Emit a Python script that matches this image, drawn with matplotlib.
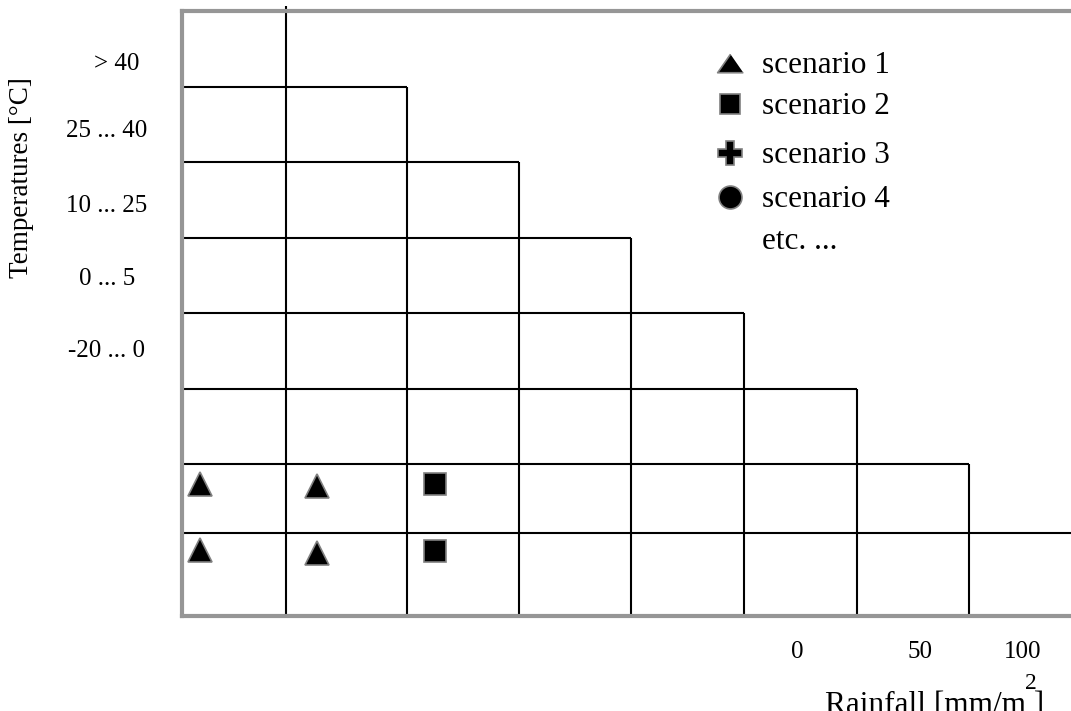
import matplotlib
matplotlib.use("Agg")
from matplotlib import pyplot as plt

plt.rcParams['font.family'] = ['Liberation Serif', 'DejaVu Serif']

# grid structure of the scenario matrix (diagram units, origin top-left)
col_edges = [0, 104, 225, 337, 449, 562, 675, 787, 889]
row_edges = [0, 76, 151, 227, 302, 378, 453, 522, 604]

# temperature class labels and where they sit along the y axis
temp_labels = ["> 40", "25 ... 40", "10 ... 25", "0 ... 5", "-20 ... 0"]
temp_label_y = [59, 126, 201, 274, 346]

# rainfall tick labels along the x axis
rain_labels = ["0", "50", "100"]
rain_label_x = [615, 738, 841]

# scenario points
scen1_x = [18, 135, 18, 135]
scen1_y = [473, 475, 539, 542]
scen2_x = [253, 253]
scen2_y = [473, 540]

legend_labels = ["scenario 1", "scenario 2", "scenario 3", "scenario 4", "etc. ..."]
legend_markers = [[(0, 0.72), (-1, -0.72), (1, -0.72)], "s", "P", "o", None]
legend_sizes = [18.5, 15, 17, 16.5, 0]

W, H = 1071, 711
fig = plt.figure(figsize=(W / 100, H / 100), dpi=100)
ax = fig.add_axes([182 / W, (H - 615.5) / H, 889 / W, 604.5 / H])
ax.set_xlim(0, 889)
ax.set_ylim(604.5, 0)
ax.set_xticks([])
ax.set_yticks([])

spine_col = "#969696"
for side in ["left", "top", "bottom"]:
    ax.spines[side].set_color(spine_col)
    ax.spines[side].set_linewidth(3)
ax.spines["right"].set_visible(False)

# staircase: row i (>=1) top line runs to col i+1, column j runs down from row j-1
line_kw = dict(color="black", linewidth=1.5)
for i in range(1, len(row_edges) - 1):
    ax.hlines(row_edges[i], col_edges[0], col_edges[i + 1], **line_kw)
for j in range(1, len(col_edges) - 1):
    top = row_edges[j - 1] if j > 1 else -5
    ax.vlines(col_edges[j], top, row_edges[-1], clip_on=False, **line_kw)

mk = dict(markerfacecolor="black", markeredgecolor="#808080", markeredgewidth=1.2,
          linestyle="none", zorder=5)
ax.plot(scen1_x, scen1_y, marker="^", markersize=17.5, **mk)
ax.plot(scen2_x, scen2_y, marker="s", markersize=16, **mk)

# hand-placed key in the upper right
leg_x, txt_x = 548, 580
leg_y = [52, 93, 142, 186, 228]
for lab, m, s, y in zip(legend_labels, legend_markers, legend_sizes, leg_y):
    if m is not None:
        ax.plot([leg_x], [y], marker=m, markersize=s, **mk)
    ax.text(txt_x, y + 10, lab, fontsize=22.5, va="baseline", ha="left")

for lab, y in zip(temp_labels, temp_label_y):
    xc = -65 if lab.startswith(">") else -75
    ax.text(xc, y, lab, fontsize=18, ha="center", va="baseline", clip_on=False)

for lab, x in zip(rain_labels, rain_label_x):
    ax.text(x, 647, lab, fontsize=18, ha="center", va="baseline", clip_on=False)

fig.text(22 / W, 1 - 178 / H, "Temperatures [°C]", rotation=90, fontsize=19.5,
         ha="center", va="center")
fig.text(825 / W, (H - 713) / H, "Rainfall [mm/m ]", fontsize=22.5,
         ha="left", va="baseline")
fig.text(1031 / W, (H - 689) / H, "2", fontsize=17, ha="center", va="baseline")

fig.savefig("out.png", dpi=100)
